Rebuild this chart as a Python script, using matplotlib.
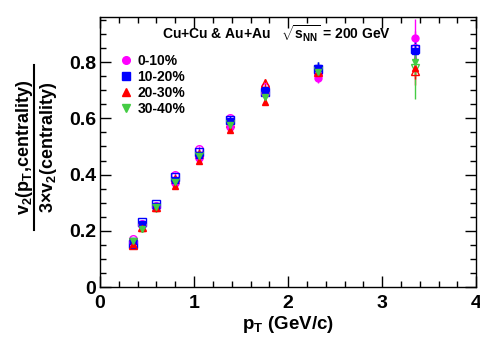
import numpy as np
import matplotlib
matplotlib.use("Agg")
from matplotlib import pyplot as plt
from matplotlib.ticker import MultipleLocator
from matplotlib.lines import Line2D

plt.rcParams['font.family'] = ['Liberation Sans', 'DejaVu Sans']
plt.rcParams['font.weight'] = 'bold'
plt.rcParams['mathtext.fontset'] = 'custom'
plt.rcParams['mathtext.rm'] = 'Liberation Sans:bold'
plt.rcParams['mathtext.default'] = 'rm'

pt = [0.35, 0.45, 0.6, 0.8, 1.05, 1.38, 1.75, 2.32, 3.35]
labels = ['0-10%', '10-20%', '20-30%', '30-40%']
colors = ['#ff00ff', '#0000ff', '#ff0000', '#44cc44']
markers = ['o', 's', '^', 'v']

# Au+Au (filled markers)
auau = [
    [0.160, 0.220, 0.285, 0.370, 0.460, 0.570, 0.690, 0.745, 0.885],
    [0.165, 0.225, 0.290, 0.380, 0.470, 0.590, 0.700, 0.780, 0.840],
    [0.155, 0.210, 0.280, 0.360, 0.450, 0.560, 0.660, 0.760, 0.780],
    [0.165, 0.205, 0.285, 0.375, 0.465, 0.575, 0.675, 0.765, 0.800],
]
auau_err = [
    [0.005, 0.005, 0.005, 0.006, 0.008, 0.010, 0.012, 0.020, 0.070],
    [0.005, 0.005, 0.005, 0.006, 0.008, 0.010, 0.012, 0.020, 0.040],
    [0.005, 0.005, 0.005, 0.006, 0.008, 0.010, 0.012, 0.020, 0.040],
    [0.005, 0.005, 0.005, 0.006, 0.008, 0.010, 0.012, 0.025, 0.050],
]
# Cu+Cu (open markers)
cucu = [
    [0.170, 0.225, 0.290, 0.400, 0.490, 0.600, 0.710, 0.760, 0.850],
    [0.155, 0.230, 0.295, 0.390, 0.480, 0.595, 0.695, 0.775, 0.845],
    [0.150, 0.215, 0.285, 0.385, 0.475, 0.585, 0.725, 0.765, 0.770],
    [0.160, 0.210, 0.280, 0.375, 0.465, 0.580, 0.680, 0.770, 0.780],
]
cucu_err = [
    [0.006, 0.006, 0.006, 0.008, 0.010, 0.012, 0.015, 0.025, 0.060],
    [0.006, 0.006, 0.006, 0.008, 0.010, 0.012, 0.015, 0.025, 0.050],
    [0.006, 0.006, 0.006, 0.008, 0.010, 0.012, 0.015, 0.025, 0.050],
    [0.006, 0.006, 0.006, 0.008, 0.010, 0.012, 0.015, 0.030, 0.110],
]

fig = plt.figure(figsize=(4.81, 3.43), dpi=100)
ax = fig.add_axes([0.208, 0.163, 0.782, 0.787])

for i in range(4):
    ax.errorbar(pt, cucu[i], yerr=cucu_err[i], fmt=markers[i], color=colors[i],
                mfc='none', mec=colors[i], ms=5.5, mew=1.0, elinewidth=1, capsize=0)
for i in range(4):
    ax.errorbar(pt, auau[i], yerr=auau_err[i], fmt=markers[i], color=colors[i],
                mfc=colors[i], mec=colors[i], ms=5, elinewidth=1, capsize=0)

ax.set_xlim(0, 4)
ax.set_ylim(0, 0.96)
ax.xaxis.set_major_locator(MultipleLocator(1))
ax.xaxis.set_minor_locator(MultipleLocator(0.2))
ax.yaxis.set_major_locator(MultipleLocator(0.2))
ax.yaxis.set_minor_locator(MultipleLocator(0.05))
ax.set_yticks([0, 0.2, 0.4, 0.6, 0.8])
ax.set_yticklabels(['0', '0.2', '0.4', '0.6', '0.8'])
ax.tick_params(which='both', direction='in', top=True, right=True, labelsize=14)
ax.tick_params(which='major', length=8, width=1)
ax.tick_params(which='minor', length=4, width=1)
ax.tick_params(axis='x', pad=6)
ax.tick_params(axis='y', pad=3)
for s in ax.spines.values():
    s.set_linewidth(1)

ax.set_xlabel(r'p$_\mathregular{T}$ (GeV/c)', fontsize=13.5, fontweight='bold', labelpad=1)

# y label as a fraction
fig.text(0.050, 0.57, r'v$_2$(p$_T$,centrality)', rotation=90, fontsize=13,
         ha='center', va='center', fontweight='bold')
fig.text(0.101, 0.57, r'3$\times$v$_2$(centrality)', rotation=90, fontsize=13,
         ha='center', va='center', fontweight='bold')
fig.add_artist(Line2D([0.071, 0.071], [0.33, 0.81], color='black', lw=1.5,
                      transform=fig.transFigure))

ax.text(0.165, 0.94, r'Cu+Cu & Au+Au   $\sqrt{s_{NN}}$ = 200 GeV', transform=ax.transAxes,
        fontsize=10, fontweight='bold', va='center')

handles = [Line2D([], [], ls='none', marker=markers[i], color=colors[i], ms=5.5)
           for i in range(4)]
ax.legend(handles, labels, loc='upper left', bbox_to_anchor=(0.055, 0.865), frameon=False,
          prop={'weight': 'bold', 'size': 10}, handletextpad=0.4, labelspacing=0.15,
          handlelength=0.8, borderaxespad=0, borderpad=0)

fig.savefig('out.png', dpi=100)
